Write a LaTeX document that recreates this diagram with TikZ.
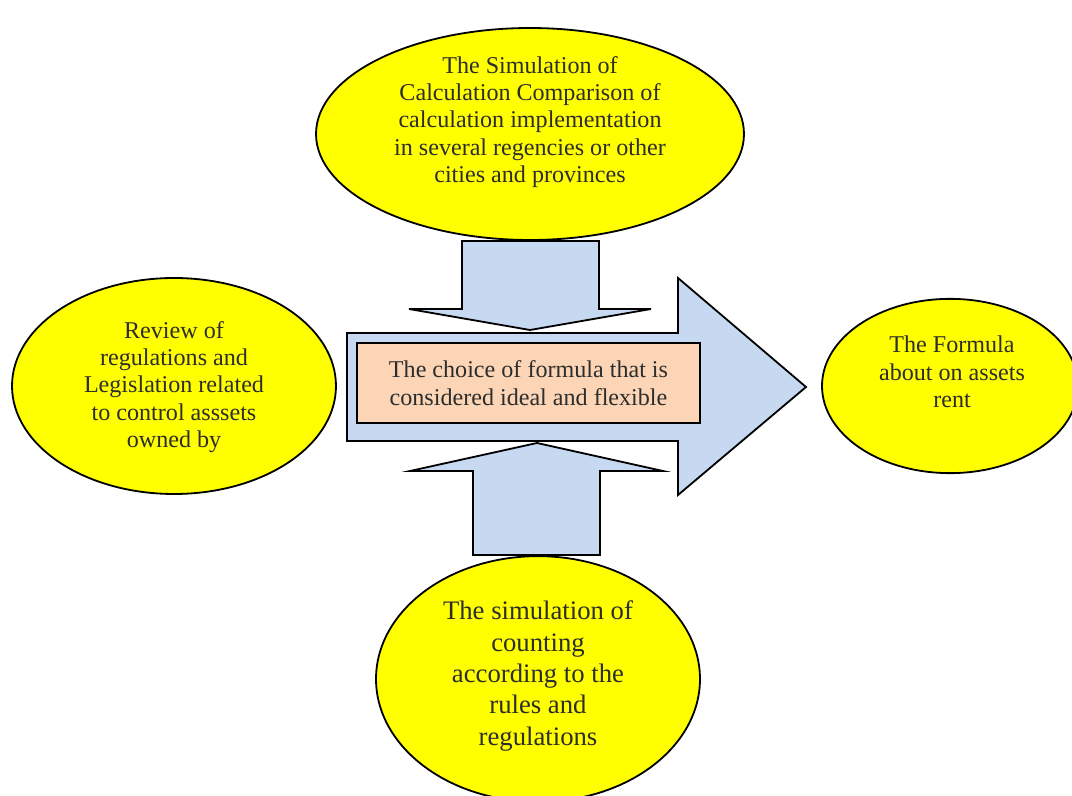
\documentclass[tikz,border=0pt]{standalone}
\usepackage{fontspec}
\setmainfont{Liberation Serif}
\usetikzlibrary{shapes.geometric}

\definecolor{bubbleyellow}{RGB}{255,255,0}
\definecolor{arrowblue}{RGB}{198,217,241}
\definecolor{boxpeach}{RGB}{251,213,181}
\definecolor{inkgray}{RGB}{45,45,45}

\tikzset{
    bubble/.style={ellipse,draw,line width=0.9pt,fill=bubbleyellow,inner sep=0pt},
    bubbletext/.style={align=center,text=inkgray,inner sep=0pt,font=\fontsize{12}{13.6}\selectfont},
    blockarrow/.style={draw,line width=0.9pt,fill=arrowblue,line join=miter},
    choicebox/.style={rectangle,draw,line width=0.9pt,fill=boxpeach,align=center,
        text=inkgray,font=\fontsize{12}{13.6}\selectfont}
}

\begin{document}
\begin{tikzpicture}[x=0.0175cm,y=-0.0175cm]

    \useasboundingbox (0,0) rectangle (1072,796);

    %%%%%%%%%%%%%%%%%%%%%%%%%%%%%%%%%%%%%%%%%%%%%%%%%%%%%%

    % simulation of comparison (top)
    \node[bubble,minimum width=7.49cm,minimum height=3.71cm] (compare) at (530,134) {};
    \node[bubbletext] (comparetext) at (530,122)
        {The Simulation of\\Calculation Comparison of\\calculation implementation\\in several regencies or other\\cities and provinces};

    % review of regulations (left)
    \node[bubble,minimum width=5.67cm,minimum height=3.78cm] (review) at (174,386) {};
    \node[bubbletext] (reviewtext) at (174,387)
        {Review of\\regulations and\\Legislation related\\to control asssets\\owned by};

    % formula on assets rent (right)
    \node[bubble,minimum width=4.48cm,minimum height=3.05cm] (formula) at (950,386) {};
    \node[bubbletext] (formulatext) at (952,372)
        {The Formula\\about on assets\\rent};

    % simulation of counting (bottom)
    \node[bubble,minimum width=5.67cm,minimum height=4.3cm] (counting) at (538,679) {};
    \node[bubbletext,font=\fontsize{13.3}{15.6}\selectfont] (countingtext) at (538,676)
        {The simulation of\\counting\\according to the\\rules and\\regulations};

    %%%%%%%%%%%%%%%%%%%%%%%%%%%%%%%%%%%%%%%%%%%%%%%%%%%%%%

    % arrow from the top
    \draw[blockarrow] (462,241) -- (599,241) -- (599,309) -- (651,309) -- (530,330)
        -- (409,309) -- (462,309) -- cycle;

    % arrow from the bottom
    \draw[blockarrow] (473,555) -- (600,555) -- (600,471) -- (663,471) -- (537,443)
        -- (410,471) -- (473,471) -- cycle;

    % main arrow to the right
    \draw[blockarrow] (347,333) -- (678,333) -- (678,278) -- (806,387) -- (678,495)
        -- (678,441) -- (347,441) -- cycle;

    %%%%%%%%%%%%%%%%%%%%%%%%%%%%%%%%%%%%%%%%%%%%%%%%%%%%%%

    % choice of formula
    \node[choicebox,minimum width=6cm,minimum height=1.4cm] (choice) at (528.5,383)
        {The choice of formula that is\\considered ideal and flexible};

\end{tikzpicture}
\end{document}
